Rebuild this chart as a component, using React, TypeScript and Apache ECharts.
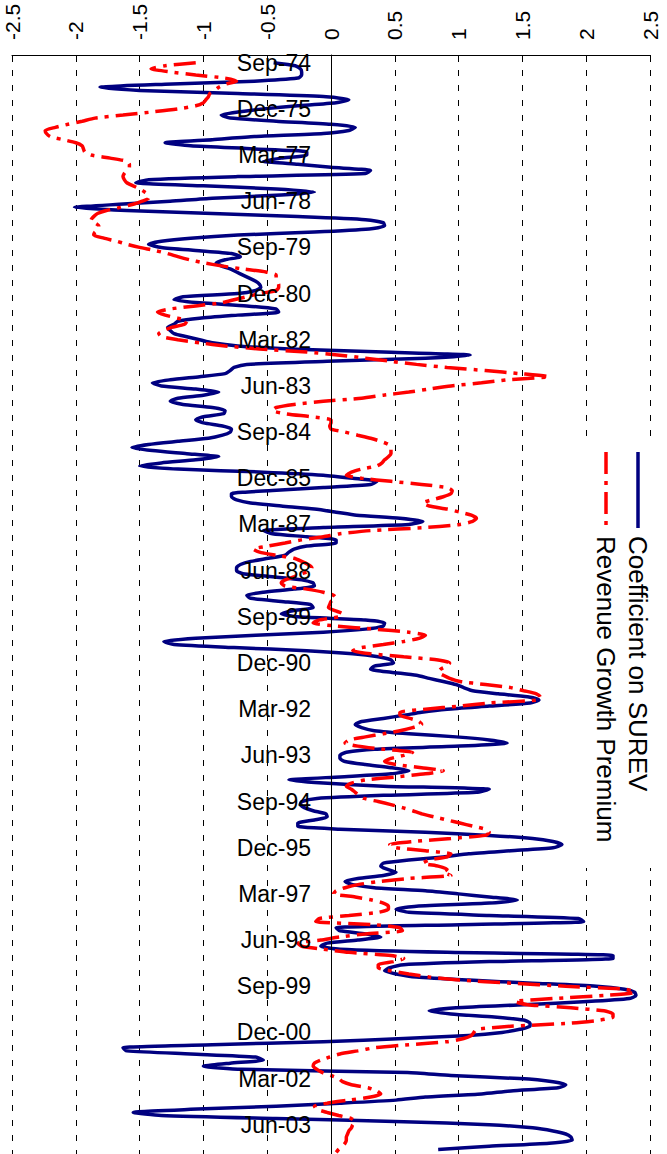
import React, { useEffect, useRef } from "react";
import * as echarts from "echarts";

// Monthly estimates, first value = Sep-74
const surevCoefficient = [
  -0.45, -0.28, -0.24, -0.23, -0.23, -0.26, -0.6, -1.3, -1.81, -1.5,
  -0.73, -0.06, 0.14, 0.04, -0.26, -0.53, -0.73, -0.86, -0.79, -0.43,
  0.0, 0.19, 0.14, -0.06, -0.6, -0.93, -1.3, -1.1, -0.6, -0.19,
  -0.19, -0.39, -0.53, -0.26, 0.0, 0.31, 0.27, -0.73, -1.43, -1.53,
  -1.0, -0.43, -0.13, -0.39, -0.93, -1.26, -1.66, -2.01, -1.6, -0.93,
  -0.26, 0.27, 0.41, 0.42, 0.3, -0.13, -0.73, -1.1, -1.33, -1.43,
  -1.33, -1.06, -0.78, -0.71, -0.83, -0.9, -0.86, -0.79, -0.74, -0.69,
  -0.64, -0.59, -0.56, -0.55, -0.59, -0.73, -1.16, -1.23, -1.03, -0.66,
  -0.43, -0.41, -0.73, -1.03, -1.2, -1.23, -1.28, -1.26, -1.23, -1.13,
  -1.03, -0.93, -0.73, -0.33, 0.41, 1.09, 0.74, -0.03, -0.66, -0.76,
  -0.79, -0.83, -1.03, -1.26, -1.4, -1.33, -1.06, -0.88, -1.0, -1.2,
  -1.26, -1.16, -0.93, -0.83, -0.84, -1.0, -1.06, -1.0, -0.85, -0.78,
  -0.79, -0.85, -0.96, -1.2, -1.43, -1.56, -1.4, -1.13, -0.88, -1.06,
  -1.33, -1.5, -1.2, -0.53, -0.06, 0.17, 0.36, 0.31, -0.06, -0.46,
  -0.78, -0.78, -0.74, -0.63, -0.39, -0.13, 0.04, 0.2, 0.54, 0.72,
  0.61, -0.06, -0.53, -0.46, -0.19, 0.04, 0.04, -0.19, -0.29, -0.33,
  -0.36, -0.49, -0.63, -0.71, -0.74, -0.74, -0.69, -0.46, -0.23, -0.14,
  -0.13, -0.29, -0.53, -0.66, -0.63, -0.39, -0.16, -0.14, -0.3, -0.39,
  -0.26, 0.27, 0.42, 0.41, 0.27, -0.06, -0.59, -1.06, -1.31, -1.23,
  -0.76, -0.19, 0.17, 0.37, 0.47, 0.49, 0.34, 0.31, 0.47, 0.67,
  0.77, 0.88, 0.98, 1.04, 1.11, 1.31, 1.54, 1.63, 1.56, 1.24,
  0.91, 0.71, 0.57, 0.41, 0.24, 0.19, 0.24, 0.34, 0.61, 0.98,
  1.24, 1.38, 1.01, 0.34, 0.12, 0.07, 0.07, 0.11, 0.27, 0.47,
  0.61, 0.47, 0.07, -0.33, -0.06, 0.41, 1.24, 1.14, 0.41, -0.11,
  -0.23, -0.24, -0.21, -0.14, -0.04, -0.03, -0.13, -0.26, -0.26, 0.07,
  0.74, 1.24, 1.58, 1.74, 1.81, 1.74, 1.41, 1.08, 0.88, 0.61,
  0.41, 0.39, 0.44, 0.51, 0.41, 0.21, 0.11, 0.17, 0.34, 0.74,
  1.0, 1.24, 1.46, 1.24, 0.67, 0.51, 0.61, 1.24, 1.94, 1.98,
  1.01, 0.04, 0.07, 0.27, 0.39, 0.21, -0.03, -0.08, 0.07, 0.91,
  2.21, 2.21, 1.24, 0.57, 0.46, 0.42, 0.51, 0.67, 1.08, 1.58,
  2.08, 2.3, 2.38, 2.39, 2.34, 2.01, 1.51, 0.98, 0.77, 0.94,
  1.28, 1.51, 1.56, 1.56, 1.48, 1.34, 1.08, 0.57, -0.06, -0.93,
  -1.63, -1.6, -1.1, -0.59, -0.53, -0.79, -1.0, -0.7, 0.6, 0.94,
  1.48, 1.74, 1.84, 1.78, 1.41, 1.18, 0.74, 0.51, 0.07, -0.43,
  -1.1, -1.55, -1.33, -0.43, 0.57, 1.24, 1.58, 1.74, 1.84, 1.88,
  1.89, 1.71, 1.24, 0.84,
];

// Monthly estimates, first value = Sep-74
const revenueGrowthPremium = [
  -1.06, -1.3, -1.41, -1.26, -1.06, -0.83, -0.74, -0.83, -0.88, -0.91,
  -0.95, -0.96, -0.98, -1.0, -1.06, -1.2, -1.4, -1.63, -1.85, -1.95,
  -2.06, -2.16, -2.24, -2.23, -2.2, -2.1, -2.0, -1.95, -1.94, -1.93,
  -1.88, -1.73, -1.6, -1.58, -1.58, -1.6, -1.62, -1.63, -1.62, -1.6,
  -1.55, -1.5, -1.46, -1.43, -1.43, -1.48, -1.55, -1.65, -1.76, -1.83,
  -1.86, -1.88, -1.85, -1.82, -1.82, -1.85, -1.86, -1.78, -1.68, -1.6,
  -1.5, -1.38, -1.28, -1.2, -1.11, -1.0, -0.86, -0.69, -0.51, -0.43,
  -0.43, -0.42, -0.41, -0.41, -0.43, -0.56, -0.66, -0.76, -0.86, -1.06,
  -1.26, -1.36, -1.3, -1.2, -1.13, -1.15, -1.25, -1.31, -1.35, -1.33,
  -1.2, -1.03, -0.83, -0.56, -0.19, 0.07, 0.27, 0.47, 0.67, 0.91,
  1.21, 1.48, 1.71, 1.38, 1.18, 0.94, 0.77, 0.61, 0.41, 0.24,
  -0.06, -0.29, -0.43, -0.46, -0.36, -0.16, 0.0, 0.0, -0.01, 0.0,
  0.11, 0.21, 0.31, 0.39, 0.45, 0.47, 0.47, 0.47, 0.45, 0.42,
  0.4, 0.36, 0.24, 0.16, 0.12, 0.24, 0.47, 0.71, 0.91, 0.95,
  0.94, 0.88, 0.79, 0.72, 0.77, 0.91, 1.01, 1.1, 1.14, 1.11,
  1.01, 0.74, 0.31, 0.07, -0.06, -0.23, -0.36, -0.49, -0.61, -0.56,
  -0.43, -0.29, -0.23, -0.18, -0.15, -0.16, -0.23, -0.29, -0.36, -0.39,
  -0.36, -0.19, -0.06, 0.02, 0.04, 0.0, -0.01, -0.02, 0.03, 0.09,
  0.06, -0.09, -0.14, 0.04, 0.34, 0.61, 0.74, 0.69, 0.57, 0.41,
  0.24, 0.17, 0.31, 0.57, 0.84, 0.93, 0.91, 0.86, 0.84, 0.88,
  0.93, 1.01, 1.21, 1.41, 1.51, 1.61, 1.64, 1.63, 1.24, 1.01,
  0.74, 0.54, 0.54, 0.62, 0.69, 0.71, 0.64, 0.54, 0.41, 0.27,
  0.14, 0.11, 0.21, 0.41, 0.64, 0.57, 0.47, 0.42, 0.51, 0.71,
  0.88, 0.74, 0.51, 0.27, 0.16, 0.12, 0.16, 0.19, 0.22, 0.26,
  0.37, 0.47, 0.56, 0.64, 0.71, 0.81, 0.91, 1.01, 1.11, 1.21,
  1.24, 1.21, 0.94, 0.64, 0.46, 0.51, 0.74, 0.94, 0.91, 0.77,
  0.72, 0.84, 0.91, 0.88, 0.94, 0.61, 0.37, 0.21, 0.11, 0.04,
  0.02, 0.19, 0.32, 0.41, 0.45, 0.45, 0.37, 0.14, -0.09, -0.12,
  0.34, 0.54, 0.56, 0.27, 0.07, -0.08, -0.26, -0.23, -0.06, 0.14,
  0.47, 0.57, 0.49, 0.37, 0.37, 0.47, 0.61, 0.77, 1.01, 1.41,
  1.84, 2.31, 2.38, 2.14, 1.74, 1.44, 1.54, 1.88, 2.14, 2.21,
  2.21, 2.11, 1.88, 1.41, 1.14, 1.12, 1.1, 1.04, 0.91, 0.61,
  0.34, 0.21, 0.07, -0.01, -0.08, -0.13, -0.14, -0.11, -0.07, 0.0,
  0.06, 0.09, 0.16, 0.29, 0.36, 0.39, 0.31, 0.14, -0.03, -0.13,
  -0.11, -0.03, 0.06, 0.16, 0.19, 0.17, 0.16, 0.14, 0.13, 0.12,
  0.12, 0.11, 0.09, 0.06, 0.04,
];

// Monthly category axis: Jul-74 … Mar-04, labelled every 15 months from Sep-74
const monthNames = ["Jan", "Feb", "Mar", "Apr", "May", "Jun", "Jul", "Aug", "Sep", "Oct", "Nov", "Dec"];
const firstYear = 1974;
const firstMonth = 6; // July
const monthCount = 357;
const seriesStartIndex = 2; // Sep-74
const labelEvery = 15;

const valueMin = -2.5;
const valueMax = 2.5;
const valueStep = 0.5;

const seriesNames = ["Coefficient on SUREV", "Revenue Growth Premium"];

const months: string[] = [];
for (let i = 0; i < monthCount; i++) {
  const m = firstMonth + i;
  const yy = (firstYear + Math.floor(m / 12)) % 100;
  months.push(`${monthNames[m % 12]}-${String(yy).padStart(2, "0")}`);
}

const FONT = "'Liberation Sans', Arial, sans-serif";
const BLUE = "#000080";
const RED = "#ff0000";
const RED_DASH = [22, 7, 4, 7];

const GRID_LEFT = 12;
const GRID_RIGHT = 17;
const CHART_W = 667;
const CHART_H = 1154;

export default function App() {
  const ref = useRef<HTMLDivElement>(null);

  useEffect(() => {
    if (!ref.current) return;
    const chart = echarts.init(ref.current, undefined, { renderer: "svg" });

    const toPoints = (vals: number[]) => vals.map((v, i) => [v, i + seriesStartIndex]);

    // the category axis sits where the value axis crosses zero
    const plotW = CHART_W - GRID_LEFT - GRID_RIGHT;
    const zeroOffset = ((0 - valueMin) / (valueMax - valueMin)) * plotW;

    chart.setOption({
      animation: false,
      backgroundColor: "#ffffff",
      grid: {
        left: GRID_LEFT,
        right: GRID_RIGHT,
        top: 55,
        bottom: 0,
        containLabel: false,
        outerBoundsMode: "none",
      },
      xAxis: {
        type: "value",
        position: "top",
        min: valueMin,
        max: valueMax,
        interval: valueStep,
        axisLine: { show: true, lineStyle: { color: "#000", width: 1 } },
        axisTick: { show: true, inside: true, length: 7, lineStyle: { color: "#000" } },
        axisLabel: {
          rotate: -90,
          margin: 15,
          color: "#000",
          fontSize: 21,
          fontFamily: FONT,
        },
        splitLine: {
          show: true,
          lineStyle: { color: "#000", width: 1, type: [6, 9] },
        },
      },
      yAxis: {
        type: "category",
        position: "left",
        inverse: true,
        data: months,
        boundaryGap: true,
        offset: -zeroOffset,
        z: 10,
        axisLine: { show: true, onZero: false, lineStyle: { color: "#000", width: 1 } },
        axisTick: { show: false },
        axisLabel: {
          interval: (index: number) => (index - seriesStartIndex) % labelEvery === 0,
          margin: 20,
          color: "#000",
          fontSize: 23,
          fontFamily: FONT,
        },
        splitLine: { show: false },
      },
      series: [
        {
          name: seriesNames[0],
          type: "line",
          data: toPoints(surevCoefficient),
          showSymbol: false,
          symbol: "none",
          smooth: 0.2,
          lineStyle: { color: BLUE, width: 3.5, join: "round" },
          z: 3,
        },
        {
          name: seriesNames[1],
          type: "line",
          data: toPoints(revenueGrowthPremium),
          showSymbol: false,
          symbol: "none",
          smooth: 0.2,
          lineStyle: { color: RED, width: 3.5, type: RED_DASH },
          z: 4,
        },
      ],
      graphic: [
        {
          type: "rect",
          z: 100,
          shape: { x: 575, y: 437, width: 92, height: 431 },
          style: { fill: "#ffffff" },
        },
        {
          type: "line",
          z: 101,
          shape: { x1: 638, y1: 452, x2: 638, y2: 528 },
          style: { stroke: BLUE, lineWidth: 3.5 },
        },
        {
          type: "line",
          z: 101,
          shape: { x1: 606, y1: 452, x2: 606, y2: 528 },
          style: { stroke: RED, lineWidth: 3.5, lineDash: RED_DASH },
        },
        {
          type: "text",
          z: 101,
          x: 638,
          y: 536,
          rotation: -Math.PI / 2,
          style: {
            text: seriesNames[0],
            fontSize: 26,
            fontFamily: FONT,
            fill: "#000",
            align: "left",
            verticalAlign: "middle",
            textAlign: "left",
            textVerticalAlign: "middle",
          },
        },
        {
          type: "text",
          z: 101,
          x: 606,
          y: 536,
          rotation: -Math.PI / 2,
          style: {
            text: seriesNames[1],
            fontSize: 26,
            fontFamily: FONT,
            fill: "#000",
            align: "left",
            verticalAlign: "middle",
            textAlign: "left",
            textVerticalAlign: "middle",
          },
        },
      ],
    });

    return () => chart.dispose();
  }, []);

  return (
    <div
      ref={ref}
      style={{ position: "absolute", left: 0, top: 0, width: CHART_W, height: CHART_H, background: "#fff" }}
    />
  );
}
